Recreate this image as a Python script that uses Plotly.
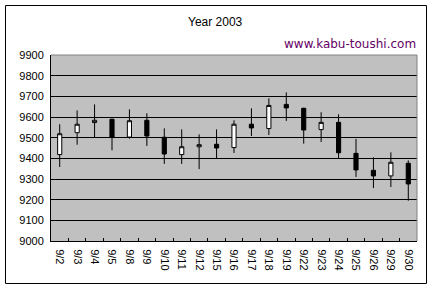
import plotly.graph_objects as go

dates = ["9/2", "9/3", "9/4", "9/5", "9/8", "9/9", "9/10", "9/11", "9/12", "9/15", "9/16",
         "9/17", "9/18", "9/19", "9/22", "9/23", "9/24", "9/25", "9/26", "9/29", "9/30"]
open_ = [9418, 9524, 9573, 9589, 9503, 9584, 9502, 9418, 9456, 9468, 9452,
         9565, 9544, 9661, 9642, 9539, 9574, 9424, 9342, 9315, 9376]
high = [9565, 9632, 9661, 9592, 9637, 9618, 9545, 9540, 9516, 9540, 9584,
        9642, 9690, 9719, 9645, 9623, 9613, 9494, 9405, 9429, 9390]
low = [9358, 9466, 9500, 9439, 9495, 9460, 9373, 9373, 9348, 9400, 9426,
       9508, 9513, 9581, 9471, 9479, 9400, 9310, 9256, 9261, 9195]
close = [9519, 9565, 9584, 9503, 9582, 9508, 9421, 9456, 9466, 9450, 9565,
         9547, 9656, 9644, 9537, 9574, 9427, 9344, 9315, 9381, 9276]
yticks = [9000, 9100, 9200, 9300, 9400, 9500, 9600, 9700, 9800, 9900]

fig = go.Figure(go.Candlestick(
    x=dates, open=open_, high=high, low=low, close=close,
    increasing=dict(fillcolor="white", line=dict(color="black", width=1)),
    decreasing=dict(fillcolor="black", line=dict(color="black", width=1)),
    whiskerwidth=0, showlegend=False, hoverinfo="skip",
))

L, R, T, B = 51, 15, 55, 47
pw, ph = 432 - L - R, 288 - T - B

fig.update_layout(
    width=432, height=288,
    margin=dict(l=L, r=R, t=T, b=B),
    paper_bgcolor="white", plot_bgcolor="#c0c0c0",
    font=dict(family="Liberation Sans, Arial, sans-serif", size=11, color="black"),
    boxgap=0.66,
    showlegend=False,
    xaxis=dict(
        type="category", rangeslider=dict(visible=False),
        showgrid=False, showline=True, linecolor="black", linewidth=1,
        ticks="inside", tickson="boundaries", ticklen=3, tickcolor="black",
        tickangle=90, tickfont=dict(size=11), ticklabelstandoff=5,
        mirror=False, zeroline=False,
    ),
    yaxis=dict(
        range=[9000, 9900], tickvals=yticks, tickformat="d", showgrid=True, gridcolor="black",
        gridwidth=1, showline=True, linecolor="black", linewidth=1,
        ticks="", tickfont=dict(size=11), zeroline=False, ticklabelstandoff=4,
    ),
    annotations=[
        dict(text="Year 2003", x=(215 - L) / pw, y=(288 - B - 22) / ph, xref="paper", yref="paper",
             showarrow=False, xanchor="center", yanchor="middle", font=dict(size=12)),
        dict(text="www.kabu-toushi.com", x=(418 - L) / pw, y=(288 - B - 44) / ph, xref="paper",
             yref="paper", showarrow=False, xanchor="right", yanchor="middle",
             font=dict(size=12, color="#660066", family="DejaVu Sans, sans-serif")),
    ],
    shapes=[
        dict(type="rect", xref="paper", yref="paper",
             x0=(5.5 - L) / pw, x1=(426.5 - L) / pw, y0=(288 - B - 283.5) / ph, y1=(288 - B - 5.5) / ph,
             line=dict(color="black", width=1), fillcolor="rgba(0,0,0,0)", layer="below"),
        dict(type="line", xref="paper", yref="paper", x0=0, x1=1, y0=1, y1=1,
             line=dict(color="#808080", width=1), layer="above"),
        dict(type="line", xref="paper", yref="paper", x0=1, x1=1, y0=0, y1=1,
             line=dict(color="#808080", width=1), layer="above"),
    ],
)

fig.write_html("out.html")
